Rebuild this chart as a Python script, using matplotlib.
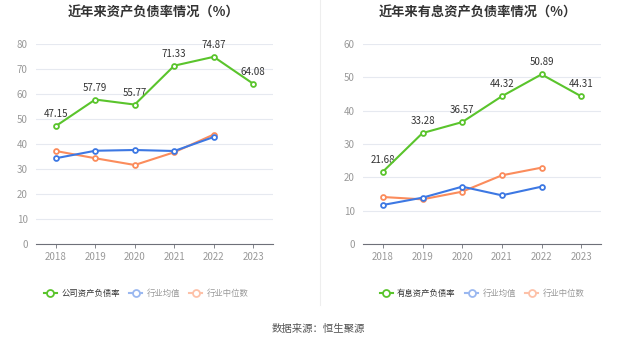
import matplotlib
matplotlib.use('Agg')
import matplotlib.pyplot as plt
from matplotlib.lines import Line2D

plt.rcParams['font.family'] = ['Noto Sans CJK SC', 'DejaVu Sans']

years = ['2018', '2019', '2020', '2021', '2022', '2023']

# 左图: 资产负债率
company_debt = [47.15, 57.79, 55.77, 71.33, 74.87, 64.08]
industry_avg_debt = [34.3, 37.3, 37.6, 37.2, 42.8]
industry_med_debt = [37.2, 34.3, 31.6, 36.7, 43.8]

# 右图: 有息资产负债率
company_int = [21.68, 33.28, 36.57, 44.32, 50.89, 44.31]
industry_avg_int = [11.7, 13.9, 17.2, 14.6, 17.2]
industry_med_int = [14.1, 13.4, 15.7, 20.6, 22.9]

titles = ['近年来资产负债率情况（%）', '近年来有息资产负债率情况（%）']
legend_labels = [['公司资产负债率', '行业均值', '行业中位数'],
                 ['有息资产负债率', '行业均值', '行业中位数']]

GREEN = '#5ac42c'
BLUE = '#3d78e3'
ORANGE = '#fb8c5c'
GREEN_L = '#5ac42c'
BLUE_L = '#9ab8f0'
ORANGE_L = '#fdc1a8'

W, H = 637, 344
fig = plt.figure(figsize=(W / 100, H / 100), dpi=100)


def fx(px):
    return px / W


def fy(py):
    return 1 - py / H


axes_px = [(36, 44, 273, 244), (363, 44, 601, 244)]
ylims = [80, 60]
datasets = [(company_debt, industry_avg_debt, industry_med_debt),
            (company_int, industry_avg_int, industry_med_int)]
title_x = [153, 478]
legend_x = [146, 482]

for i in range(2):
    x0, y0, x1, y1 = axes_px[i]
    ax = fig.add_axes([fx(x0), fy(y1), (x1 - x0) / W, (y1 - y0) / H])
    comp, avg, med = datasets[i]
    xs = list(range(len(years)))
    ax.plot(xs, comp, color=GREEN, lw=1.5, marker='o', ms=3.5,
            mfc='white', mew=1.3, zorder=5)
    ax.plot(xs[:len(avg)], avg, color=BLUE, lw=1.5, marker='o', ms=3.5,
            mfc='white', mew=1.3, zorder=4)
    ax.plot(xs[:len(med)], med, color=ORANGE, lw=1.5, marker='o', ms=3.5,
            mfc='white', mew=1.3, zorder=3)
    for x, v in zip(xs, comp):
        ax.annotate(f'{v:.2f}', (x, v), xytext=(0, 5), textcoords='offset points',
                    ha='center', va='bottom', fontsize=7, color='#333333')

    ax.set_xlim(-0.5, len(years) - 0.5)
    ax.set_ylim(0, ylims[i])
    ax.set_yticks(range(0, ylims[i] + 1, 10))
    ax.set_xticks(xs)
    ax.set_xticklabels(years)
    ax.grid(axis='y', color='#e6e9f0', lw=0.8)
    ax.set_axisbelow(True)
    for s in ['top', 'right', 'left']:
        ax.spines[s].set_visible(False)
    ax.spines['bottom'].set_color('#6e7079')
    ax.spines['bottom'].set_linewidth(0.8)
    ax.tick_params(axis='y', length=0, labelsize=7, labelcolor='#999999', pad=6)
    ax.tick_params(axis='x', length=3, color='#6e7079', width=0.6,
                   labelsize=7, labelcolor='#999999', pad=3)

    fig.text(fx(title_x[i]), fy(12), titles[i], ha='center', va='center',
             fontsize=9.5, fontweight='bold', color='#333333')

    handles = [Line2D([], [], color=c, lw=1.5, marker='o', ms=5, mfc='white', mew=1.3)
               for c in (GREEN_L, BLUE_L, ORANGE_L)]
    leg = fig.legend(handles, legend_labels[i], loc='center',
                     bbox_to_anchor=(fx(legend_x[i]), fy(293)), ncol=3,
                     frameon=False, fontsize=6, handlelength=1.6,
                     handletextpad=0.5, columnspacing=1.1)
    for t, c in zip(leg.get_texts(), ('#333333', '#999999', '#999999')):
        t.set_color(c)

fig.add_artist(Line2D([fx(320), fx(320)], [fy(0), fy(305)], color='#eeeeee', lw=0.8))
fig.text(fx(318), fy(329), '数据来源：恒生聚源', ha='center', va='center',
         fontsize=7.5, color='#555555')

fig.savefig('out.png', dpi=100)
